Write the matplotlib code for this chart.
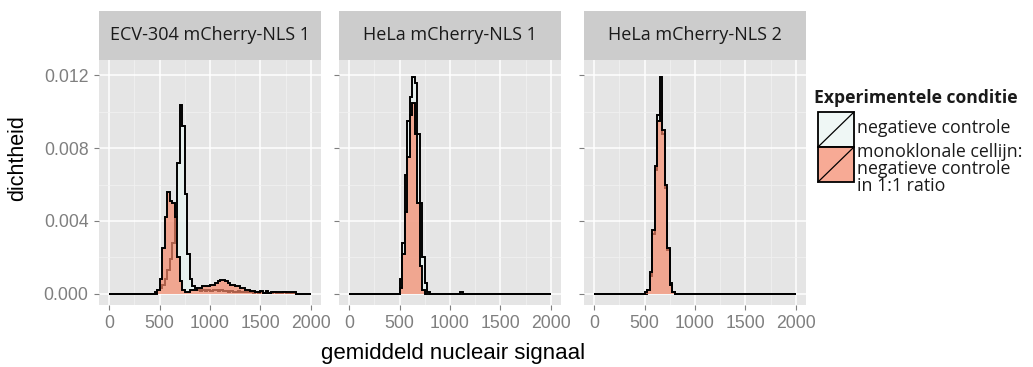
import numpy as np
import matplotlib
matplotlib.use("Agg")
import matplotlib.pyplot as plt
from matplotlib.patches import Rectangle
from matplotlib.lines import Line2D

# ---------------------------------------------------------------- data
panels = ["ECV-304 mCherry-NLS 1", "HeLa mCherry-NLS 1", "HeLa mCherry-NLS 2"]
series_labels = ["negatieve controle",
                 "monoklonale cellijn:\nnegatieve controle\nin 1:1 ratio"]
legend_title = "Experimentele conditie"
x_label = "gemiddeld nucleair signaal"
y_label = "dichtheid"
x_ticks = [0, 500, 1000, 1500, 2000]
y_ticks = [0.000, 0.004, 0.008, 0.012]
y_tick_labels = ["0.000", "0.004", "0.008", "0.012"]

bin_width = 25
x_min, x_max = 0, 2000

# density per 25-wide bin; each list starts at the given left bin edge
ecv_neg_start = 450
ecv_neg = [0.0001, 0.0002, 0.0003, 0.0005, 0.0008, 0.0013, 0.0019, 0.0028,
           0.0042, 0.0072, 0.0104, 0.0092, 0.0055, 0.0022, 0.0008, 0.0004,
           0.0003, 0.0002,
           0.00015, 0.0002, 0.00015, 0.0002, 0.00015, 0.0002, 0.0002, 0.00015,
           0.0002, 0.00015, 0.00015, 0.0001, 0.00015, 0.0001, 0.0001, 0.00015,
           0.0001, 0.0001, 0.00008, 0.0001,
           0.00008, 0.00005, 0.0001, 0.00005, 0.00012, 0.00005, 0.00008, 0.00005,
           0.00005, 0.00008, 0.00005, 0.00005, 0.00005, 0.00008, 0.00005, 0.00005,
           0.00005, 0.00005]

ecv_mono_start = 475
ecv_mono = [0.0002, 0.0008, 0.0025, 0.0042, 0.0056, 0.0051, 0.0050, 0.0042,
            0.0020, 0.0007, 0.0002, 0.0001, 0.0001, 0.0002, 0.0002, 0.0002,
            0.0003, 0.0003, 0.0004, 0.0004, 0.0004, 0.0005, 0.0005, 0.0006,
            0.0007, 0.00075, 0.00078, 0.0007, 0.0006, 0.0005, 0.0005, 0.0004,
            0.0004, 0.0003, 0.0003, 0.0002, 0.0002, 0.00015, 0.00015, 0.0001,
            0.0001, 0.00015, 0.00005, 0.00015, 0.00005,
            0.00008, 0.00008, 0.00008, 0.00008, 0.00008, 0.00008, 0.00008,
            0.00008, 0.00008, 0.00008]

hela1_neg_start = 500
hela1_neg = [0.0008, 0.0028, 0.0065, 0.0095, 0.0108, 0.0119, 0.0116, 0.0088,
             0.0050, 0.0020, 0.0006, 0.0001,
             0, 0, 0, 0, 0, 0, 0, 0, 0, 0, 0, 0, 0.0001]

hela1_mono_start = 500
hela1_mono = [0.0003, 0.0022, 0.0045, 0.0075, 0.0098, 0.0105, 0.0088, 0.0050,
              0.0015, 0.0002]

hela2_neg_start = 525
hela2_neg = [0.0002, 0.0010, 0.0033, 0.0068, 0.0098, 0.0119, 0.0088, 0.0058,
             0.0024, 0.0006, 0.0001]

hela2_mono_start = 500
hela2_mono = [0.0001, 0.0002, 0.0012, 0.0035, 0.0070, 0.0095, 0.0106, 0.0090,
              0.0060, 0.0025, 0.0005, 0.0001]

panel_series = [
    [(ecv_neg_start, ecv_neg), (ecv_mono_start, ecv_mono)],
    [(hela1_neg_start, hela1_neg), (hela1_mono_start, hela1_mono)],
    [(hela2_neg_start, hela2_neg), (hela2_mono_start, hela2_mono)],
]

# ---------------------------------------------------------------- style
W, H = 1033, 367
panel_bg = "#E5E5E5"
strip_bg = "#CCCCCC"
tick_grey = "#7F7F7F"
fill_colors = ["#E9F5F2", "#F58769"]
fill_alpha = 0.7
strip_font = ["Open Sans", "DejaVu Sans"]
axis_font = ["Liberation Sans", "DejaVu Sans"]

edges = np.arange(x_min, x_max + bin_width, bin_width)


def full_bins(start, values):
    out = np.zeros(len(edges) - 1)
    i0 = int((start - x_min) // bin_width)
    out[i0:i0 + len(values)] = values
    return out


def fx(px):
    return px / W


def fy(py):
    return 1 - py / H


fig = plt.figure(figsize=(W / 100, H / 100), dpi=100)
fig.patch.set_facecolor("white")

panel_lefts = [99, 339, 584]
panel_w = 222
panel_top, panel_bottom = 60, 305
strip_top = 11

for k, name in enumerate(panels):
    L = panel_lefts[k]
    ax = fig.add_axes([fx(L), fy(panel_bottom), panel_w / W,
                       (panel_bottom - panel_top) / H])
    ax.set_facecolor(panel_bg)
    ax.set_xlim(-100, 2100)
    ax.set_ylim(-0.00062, 0.01285)
    for s in ax.spines.values():
        s.set_visible(False)

    ax.set_xticks(x_ticks)
    ax.set_xticks([250, 750, 1250, 1750], minor=True)
    ax.set_yticks(y_ticks)
    ax.set_yticks([0.002, 0.006, 0.010], minor=True)
    ax.grid(which="major", color="white", linewidth=1.1)
    ax.grid(which="minor", color="#F2F2F2", linewidth=0.5)
    ax.set_axisbelow(True)
    ax.tick_params(which="major", length=3.5, width=0.8, color=tick_grey,
                   labelcolor=tick_grey, labelsize=12.7, pad=4)
    ax.tick_params(which="minor", length=0)
    ax.set_xticklabels([str(t) for t in x_ticks], family=axis_font)
    if k == 0:
        ax.set_yticklabels(y_tick_labels, family=axis_font)
    else:
        ax.set_yticklabels([])

    for j, (start, vals) in enumerate(panel_series[k]):
        dens = full_bins(start, vals)
        ax.stairs(dens, edges, fill=True, facecolor=fill_colors[j],
                  alpha=fill_alpha, edgecolor="none", baseline=0, zorder=2 + 2 * j)
        ax.stairs(dens, edges, fill=False, color="black", linewidth=1.4,
                  baseline=0, zorder=3 + 2 * j)

    # facet strip
    sax = fig.add_axes([fx(L), fy(panel_top), panel_w / W,
                        (panel_top - strip_top) / H])
    sax.set_facecolor(strip_bg)
    sax.set_xticks([])
    sax.set_yticks([])
    for s in sax.spines.values():
        s.set_visible(False)
    sax.text(0.5, 0.5, name, ha="center", va="center", fontsize=13,
             family=strip_font, color="#1A1A1A", transform=sax.transAxes)

# axis titles
fig.text(fx(18), fy(158), y_label, rotation=90, ha="center", va="center",
         fontsize=15.5, family=axis_font, color="black")
fig.text(fx(453), fy(354), x_label, ha="center", va="center",
         fontsize=16, family=axis_font, color="black")

# legend
fig.text(fx(814), fy(98), legend_title, ha="left", va="center",
         fontsize=12.6, fontweight="bold", family=strip_font, color="#1A1A1A")
key_x0, key_w = 818, 36
key_rows = [(112, 147), (147, 182)]
for j, (t, b) in enumerate(key_rows):
    fig.patches.append(Rectangle((fx(key_x0), fy(b)), key_w / W, (b - t) / H,
                                 transform=fig.transFigure,
                                 facecolor=fill_colors[j], alpha=fill_alpha,
                                 edgecolor="none"))
    fig.patches.append(Rectangle((fx(key_x0), fy(b)), key_w / W, (b - t) / H,
                                 transform=fig.transFigure, facecolor="none",
                                 edgecolor="black", linewidth=1.3))
    fig.lines.append(Line2D([fx(key_x0), fx(key_x0 + key_w)], [fy(b), fy(t)],
                            transform=fig.transFigure, color="black",
                            linewidth=0.9))

label_lines = [(128, series_labels[0])]
for i, line in enumerate(series_labels[1].split("\n")):
    label_lines.append((152 + 17 * i, line))
for py, line in label_lines:
    fig.text(fx(857), fy(py), line, ha="left", va="center", fontsize=12.8,
             family=strip_font, color="#1A1A1A")

fig.savefig("out.png", dpi=100)
